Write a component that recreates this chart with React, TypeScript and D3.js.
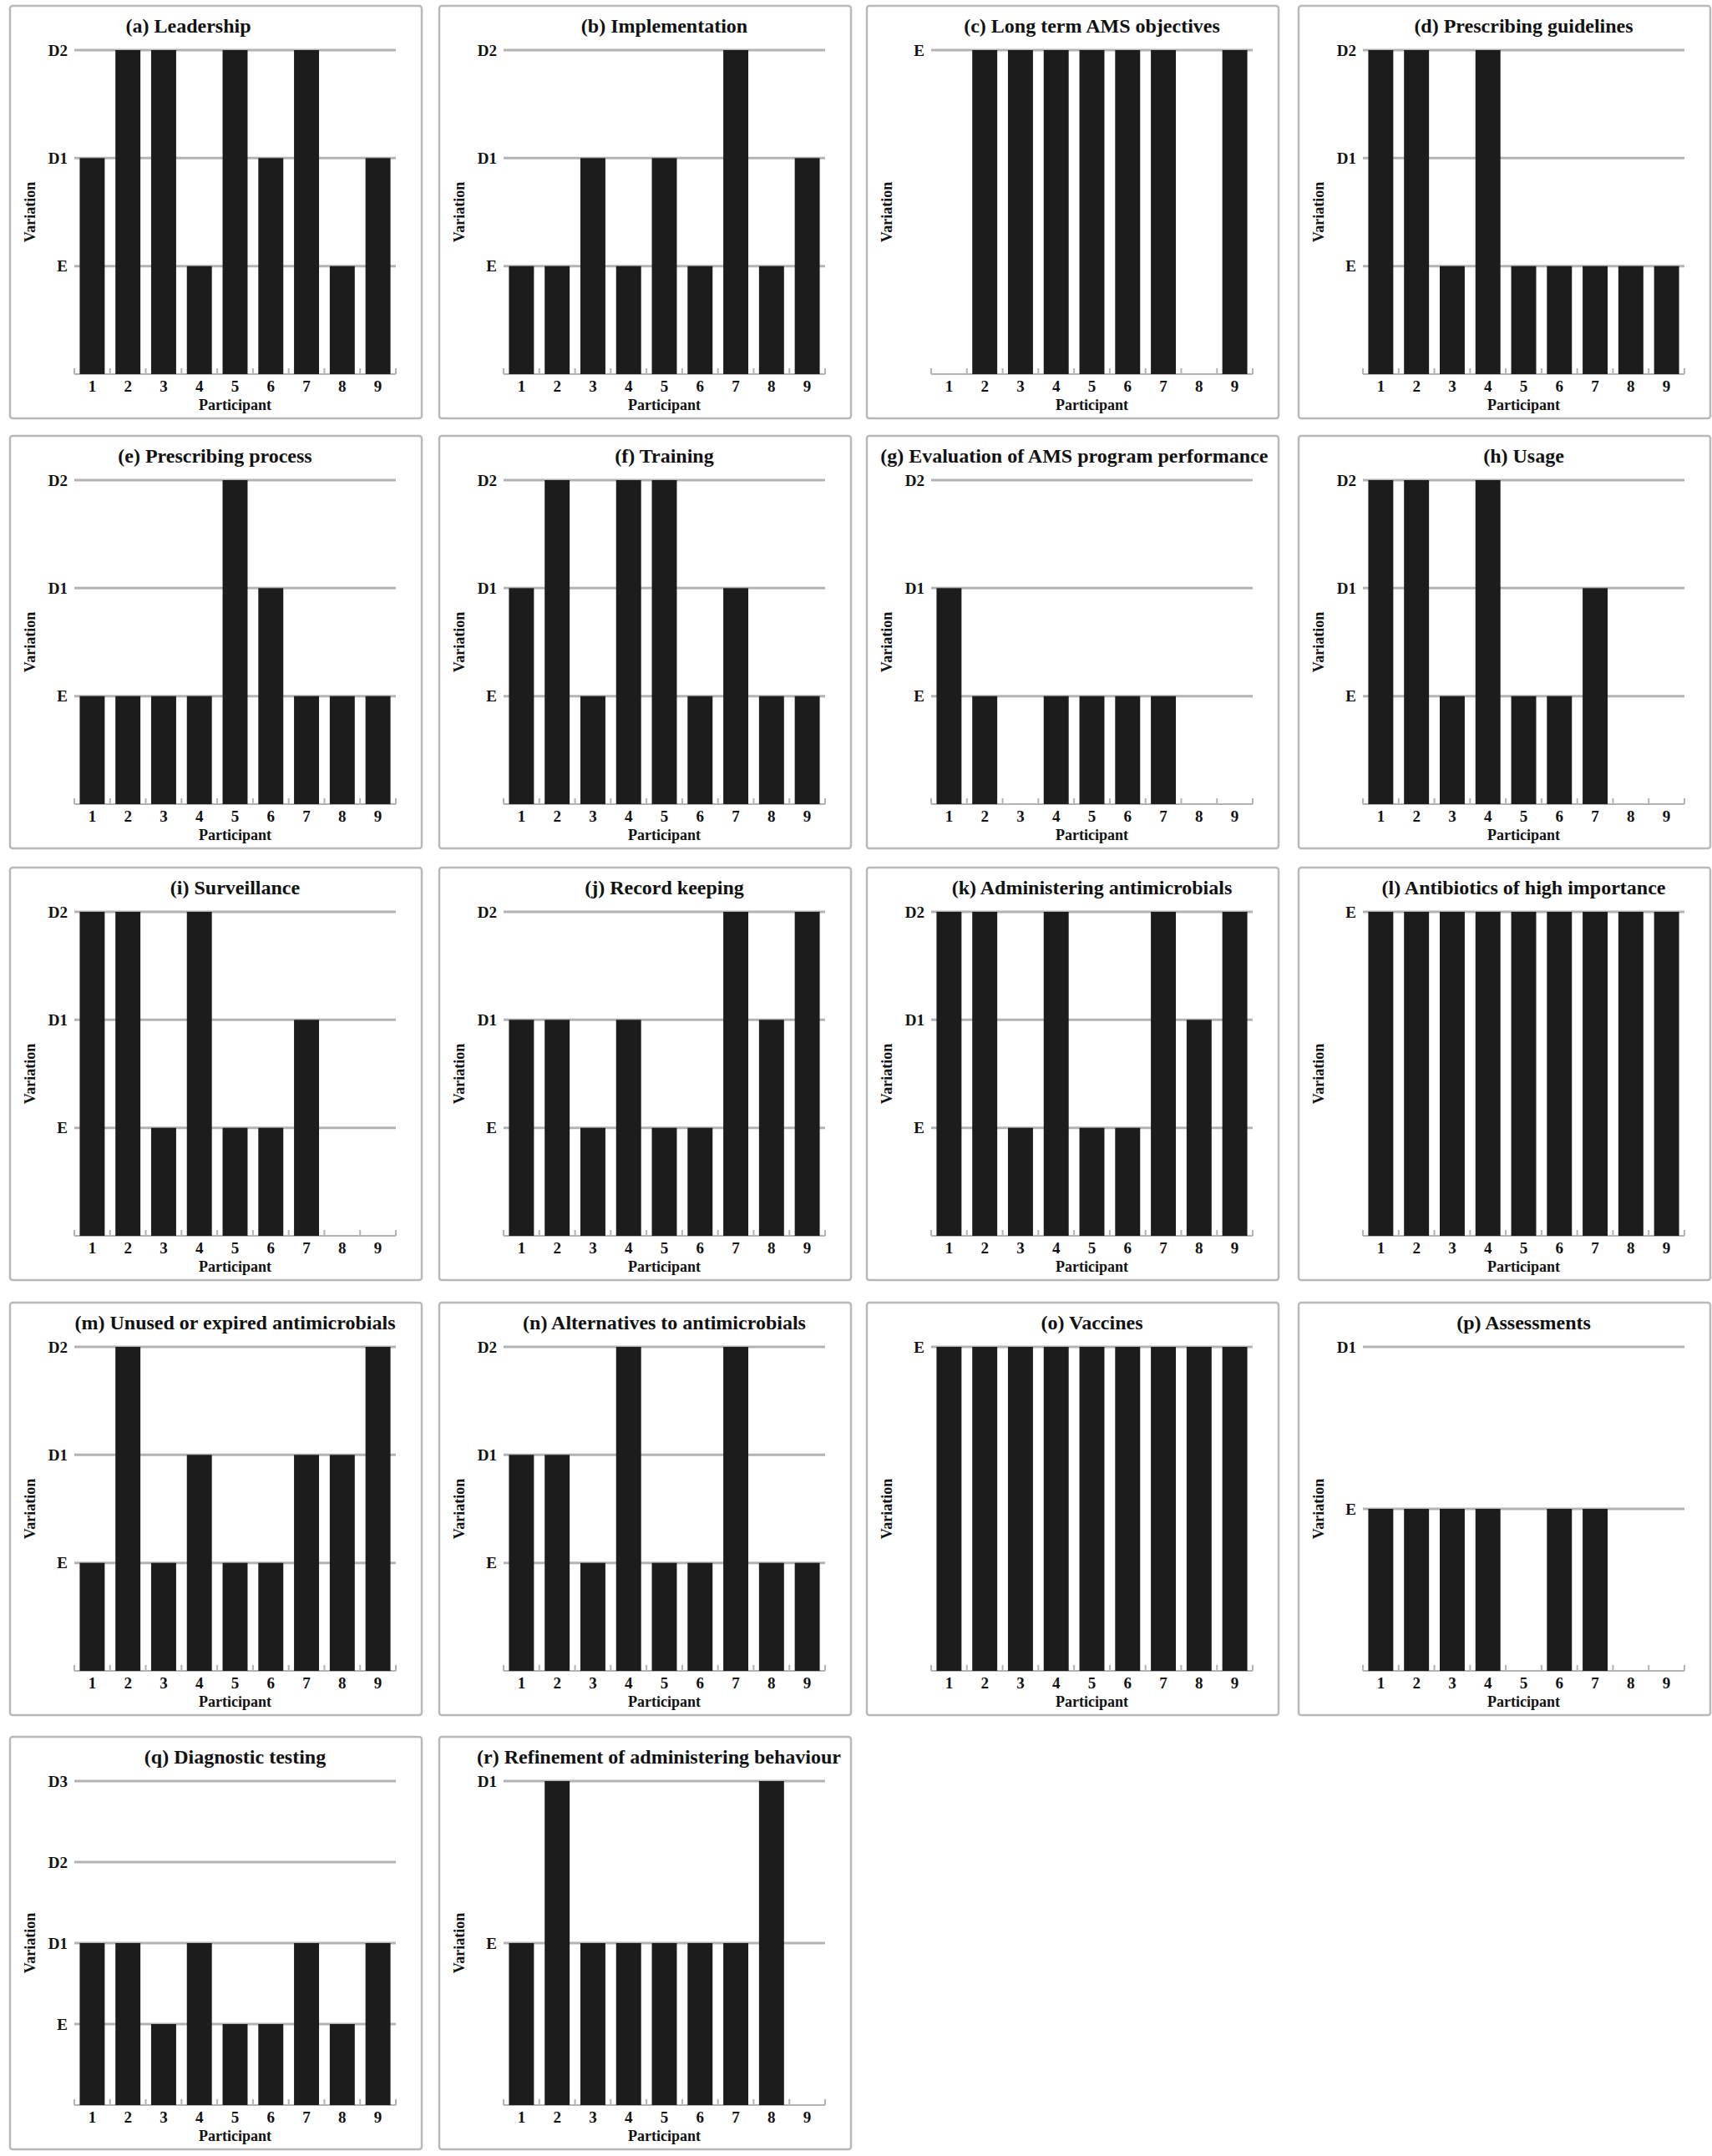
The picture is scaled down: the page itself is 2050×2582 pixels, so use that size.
import * as d3 from "d3";

// participants on the x axis
const participants = ["1", "2", "3", "4", "5", "6", "7", "8", "9"];
// y levels: 0 = no answer, 1 = E, 2 = D1, 3 = D2, 4 = D3
const levelLabels = ["E", "D1", "D2", "D3"];

const panelTitles = [
  "(a) Leadership",
  "(b) Implementation",
  "(c) Long term AMS objectives",
  "(d) Prescribing guidelines",
  "(e) Prescribing process",
  "(f) Training",
  "(g) Evaluation of AMS program performance",
  "(h) Usage",
  "(i) Surveillance",
  "(j) Record keeping",
  "(k) Administering antimicrobials",
  "(l) Antibiotics of high importance",
  "(m) Unused or expired antimicrobials",
  "(n) Alternatives to antimicrobials",
  "(o) Vaccines",
  "(p) Assessments",
  "(q) Diagnostic testing",
  "(r) Refinement of administering behaviour",
];

// number of levels shown on each panel's y axis
const panelLevels = [3, 3, 1, 3, 3, 3, 3, 3, 3, 3, 3, 1, 3, 3, 1, 2, 4, 2];

const leadership = [2, 3, 3, 1, 3, 2, 3, 1, 2];
const implementation = [1, 1, 2, 1, 2, 1, 3, 1, 2];
const longTermObjectives = [0, 1, 1, 1, 1, 1, 1, 0, 1];
const prescribingGuidelines = [3, 3, 1, 3, 1, 1, 1, 1, 1];
const prescribingProcess = [1, 1, 1, 1, 3, 2, 1, 1, 1];
const training = [2, 3, 1, 3, 3, 1, 2, 1, 1];
const evaluation = [2, 1, 0, 1, 1, 1, 1, 0, 0];
const usage = [3, 3, 1, 3, 1, 1, 2, 0, 0];
const surveillance = [3, 3, 1, 3, 1, 1, 2, 0, 0];
const recordKeeping = [2, 2, 1, 2, 1, 1, 3, 2, 3];
const administering = [3, 3, 1, 3, 1, 1, 3, 2, 3];
const highImportance = [1, 1, 1, 1, 1, 1, 1, 1, 1];
const unusedExpired = [1, 3, 1, 2, 1, 1, 2, 2, 3];
const alternatives = [2, 2, 1, 3, 1, 1, 3, 1, 1];
const vaccines = [1, 1, 1, 1, 1, 1, 1, 1, 1];
const assessments = [1, 1, 1, 1, 0, 1, 1, 0, 0];
const diagnosticTesting = [2, 2, 1, 2, 1, 1, 2, 1, 2];
const refinement = [1, 2, 1, 1, 1, 1, 1, 2, 0];

const panelValues = [
  leadership, implementation, longTermObjectives, prescribingGuidelines,
  prescribingProcess, training, evaluation, usage,
  surveillance, recordKeeping, administering, highImportance,
  unusedExpired, alternatives, vaccines, assessments,
  diagnosticTesting, refinement,
];

// layout
const W = 2050;
const H = 2582;
const colLeft = [12, 526, 1038, 1555];
const rowTop = [7, 522, 1039, 1560, 2080];
const boxW = 493;
const boxH = 494;
const plot = { left: 77, right: 462, top: 53, bottom: 441 };
const titleShift = { 0: -56, 4: -24 };
const titleMax = 470;

const FONT = "'Liberation Serif', 'Times New Roman', serif";
const TITLE_SIZE = 24;
const BAR = "#1c1c1c";
const GRID = "#b3b3b3";

const ctx = document.createElement("canvas").getContext("2d");
const textWidth = (s, font) => {
  if (!ctx) return 0;
  ctx.font = font;
  return ctx.measureText(s).width;
};

const Panel = ({ index }) => {
  const x0 = colLeft[index % 4];
  const y0 = rowTop[Math.floor(index / 4)];
  const levels = panelLevels[index];
  const values = panelValues[index];

  const x = d3
    .scaleBand()
    .domain(participants)
    .range([plot.left, plot.right])
    .paddingInner(0.3)
    .paddingOuter(0.15);

  const y = d3
    .scaleLinear()
    .domain([0, levels])
    .range([plot.bottom, plot.top]);

  const ticks = d3.range(1, levels + 1);
  const bounds = d3.range(0, participants.length + 1).map((i) => plot.left + i * x.step());

  // keep the title inside its frame; squeeze it if it is still too long
  const tw = Math.min(textWidth(panelTitles[index], `bold ${TITLE_SIZE}px ${FONT}`), titleMax);
  const squeeze = tw >= titleMax;
  const wanted = (plot.left + plot.right) / 2 + (titleShift[index] || 0);
  const cx = Math.max(tw / 2 + 12, Math.min(boxW - tw / 2 - 12, wanted));

  return (
    <g transform={`translate(${x0},${y0})`}>
      <rect
        x={0}
        y={0}
        width={boxW}
        height={boxH}
        rx={3}
        fill="#fff"
        stroke="#b9b9b9"
        strokeWidth={2.5}
      />
      <text
        x={cx}
        y={32}
        textAnchor="middle"
        fontFamily={FONT}
        fontWeight="bold"
        fontSize={TITLE_SIZE}
        fill="#111"
        {...(squeeze ? { textLength: titleMax, lengthAdjust: "spacingAndGlyphs" } : {})}
      >
        {panelTitles[index]}
      </text>

      {ticks.map((t) => (
        <g key={t}>
          <line
            x1={plot.left}
            x2={plot.right}
            y1={y(t)}
            y2={y(t)}
            stroke={GRID}
            strokeWidth={3}
          />
          <text
            x={plot.left - 8}
            y={y(t)}
            textAnchor="end"
            dominantBaseline="central"
            fontFamily={FONT}
            fontWeight="bold"
            fontSize={19}
            fill="#111"
          >
            {levelLabels[t - 1]}
          </text>
        </g>
      ))}

      {/* x axis baseline with boundary ticks */}
      <line
        x1={plot.left}
        x2={plot.right}
        y1={plot.bottom}
        y2={plot.bottom}
        stroke={GRID}
        strokeWidth={2}
      />
      {bounds.map((bx, i) => (
        <line
          key={i}
          x1={bx}
          x2={bx}
          y1={plot.bottom}
          y2={plot.bottom - 7}
          stroke={GRID}
          strokeWidth={2}
        />
      ))}

      {values.map((v, i) =>
        v > 0 ? (
          <rect
            key={i}
            x={x(participants[i])}
            y={y(v)}
            width={x.bandwidth()}
            height={y(0) - y(v)}
            fill={BAR}
          />
        ) : null
      )}

      {participants.map((p) => (
        <text
          key={p}
          x={x(p) + x.bandwidth() / 2}
          y={plot.bottom + 21}
          textAnchor="middle"
          fontFamily={FONT}
          fontWeight="bold"
          fontSize={19}
          fill="#111"
        >
          {p}
        </text>
      ))}

      <text
        x={(plot.left + plot.right) / 2}
        y={plot.bottom + 43}
        textAnchor="middle"
        fontFamily={FONT}
        fontWeight="bold"
        fontSize={18}
        fill="#111"
      >
        Participant
      </text>
      <text
        transform={`translate(24,${(plot.top + plot.bottom) / 2}) rotate(-90)`}
        textAnchor="middle"
        dominantBaseline="central"
        fontFamily={FONT}
        fontWeight="bold"
        fontSize={18}
        fill="#111"
      >
        Variation
      </text>
    </g>
  );
};

export default function App() {
  return (
    <svg
      width={W}
      height={H}
      viewBox={`0 0 ${W} ${H}`}
      style={{ position: "absolute", left: 0, top: 0, background: "#fff" }}
    >
      <rect width={W} height={H} fill="#fff" />
      {panelTitles.map((t, i) => (
        <Panel key={t} index={i} />
      ))}
    </svg>
  );
}
